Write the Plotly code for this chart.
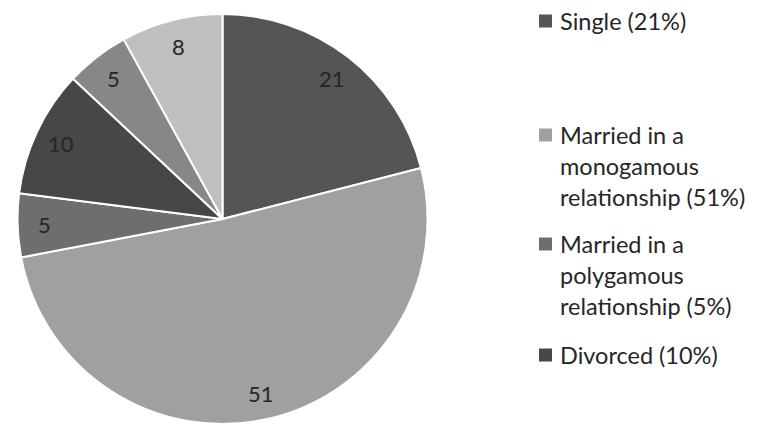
import math
import plotly.graph_objects as go

# Marital status distribution (percent)
labels = [
    "Single",
    "Married in a monogamous relationship",
    "Married in a polygamous relationship",
    "Divorced",
    "Widowed",
    "Separated",
]
values = [21, 51, 5, 10, 5, 8]
colors = ["#555555", "#a0a0a0", "#6e6e6e", "#474747", "#878787", "#bfbfbf"]

# Wrapped legend captions for the entries that are listed
legend_lines = [
    ["Single (21%)"],
    ["Married in a", "monogamous", "relationship (51%)"],
    ["Married in a", "polygamous", "relationship (5%)"],
    ["Divorced (10%)"],
]
legend_top_y = [21, 135, 244, 355]   # pixel centre of each entry's first line

W, H = 757, 428
FONT = "Lato, Carlito, sans-serif"
TXT = "#262626"

# Pie placement in pixels
cx, cy, R = 222.5, 219, 205
x0, x1 = cx - R, cx + R
y0, y1 = cy - R, cy + R

fig = go.Figure(go.Pie(
    labels=labels,
    values=values,
    sort=False,
    direction="clockwise",
    rotation=0,
    marker=dict(colors=colors, line=dict(color="white", width=2)),
    textinfo="none",
    hoverinfo="label+value",
    showlegend=False,
    domain=dict(x=[x0 / W, x1 / W], y=[1 - y1 / H, 1 - y0 / H]),
))

annotations = []
shapes = []

# Value labels placed along each slice's mid-angle
total = sum(values)
cum = 0
for v in values:
    mid = (cum + v / 2) / total * 2 * math.pi
    cum += v
    r = 0.87 * R
    px = cx + r * math.sin(mid)
    py = cy - r * math.cos(mid)
    annotations.append(dict(
        x=px / W, y=1 - py / H, xref="paper", yref="paper",
        text=str(v), showarrow=False,
        font=dict(family=FONT, size=22, color=TXT),
        xanchor="center", yanchor="middle",
    ))

# Legend: colour square plus wrapped caption
line_h = 31
for i, lines in enumerate(legend_lines):
    ytop = legend_top_y[i]
    shapes.append(dict(
        type="rect", xref="paper", yref="paper",
        x0=539 / W, x1=552 / W,
        y0=1 - (ytop + 6.5) / H, y1=1 - (ytop - 6.5) / H,
        fillcolor=colors[i], line=dict(width=0),
    ))
    for j, ln in enumerate(lines):
        yc = ytop + j * line_h
        annotations.append(dict(
            x=558 / W, y=1 - yc / H, xref="paper", yref="paper",
            text=ln, showarrow=False,
            font=dict(family=FONT, size=23.5, color=TXT),
            xanchor="left", yanchor="middle",
        ))

fig.update_layout(
    width=W, height=H,
    margin=dict(l=0, r=0, t=0, b=0),
    paper_bgcolor="white",
    plot_bgcolor="white",
    annotations=annotations,
    shapes=shapes,
)

fig.write_html("out.html")
